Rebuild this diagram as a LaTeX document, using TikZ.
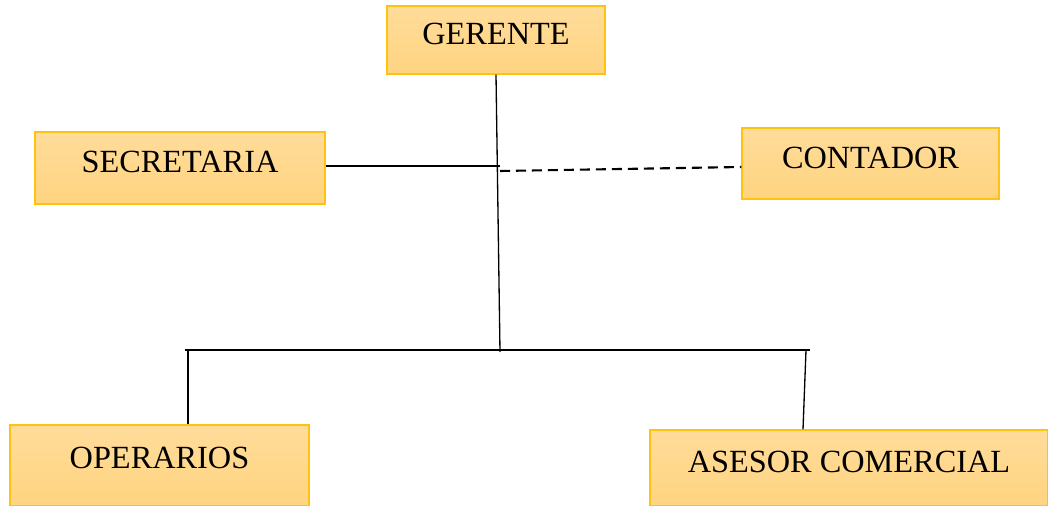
\documentclass[tikz,border=0pt]{standalone}
\usepackage{fontspec}
\setmainfont{Liberation Serif}
\usetikzlibrary{positioning,calc}
\definecolor{cboxtop}{HTML}{FFDC9A}
\definecolor{cboxbot}{HTML}{FFD480}
\definecolor{cedge}{HTML}{FFC20E}

\begin{document}
\begin{tikzpicture}[x=0.02cm, y=-0.02cm,
      box/.style={draw=cedge, line width=0.7pt, top color=cboxtop, bottom color=cboxbot,
        inner sep=0pt, text height=12.5pt, text depth=7pt, align=center,
        font=\fontsize{18.4}{20}\selectfont},
      ln/.style={line width=0.75pt, black},
      dashln/.style={line width=1.2pt, dashed, dash pattern=on 5.7pt off 3.4pt}
    ]
    \useasboundingbox (0,0) rectangle (1048,506);

    \node[box, minimum width=4.36cm, minimum height=1.36cm] (ger) at (496,40) {GERENTE};
    \node[box, minimum width=5.8cm, minimum height=1.44cm] (sec) at (180,168) {SECRETARIA};
    \node[box, minimum width=5.14cm, minimum height=1.42cm] (con) at (870.5,163.5) {CONTADOR};
    \node[box, minimum width=5.98cm, minimum height=1.62cm, text depth=9pt] (ope) at (159.5,465.5) {OPERARIOS};
    \node[box, minimum width=7.96cm, minimum height=1.52cm] (ase) at (849,468) {ASESOR COMERCIAL};

    % trunk and bus
    \coordinate (jun) at (500,352);
    \coordinate (busL) at (185,350);
    \coordinate (busR) at (810,350);
    \coordinate (dropL) at (188,350);
    \coordinate (dropR) at (806,350);
    \coordinate (jsec) at (500,166);
    \coordinate (jcon) at (500,171);

    \draw[ln] (ger.south) -- (jun);
    \draw[ln] (sec.east |- jsec) -- (jsec);
    \draw[dashln] (jcon) -- ($(con.west)+(0,3.5)$);
    \draw[ln] (busL) -- (busR);
    \draw[ln] (dropL) -- (dropL |- ope.north);
    \draw[ln] (dropR) -- ($(dropR |- ase.north)+(-3,0)$);
  \end{tikzpicture}
\end{document}
